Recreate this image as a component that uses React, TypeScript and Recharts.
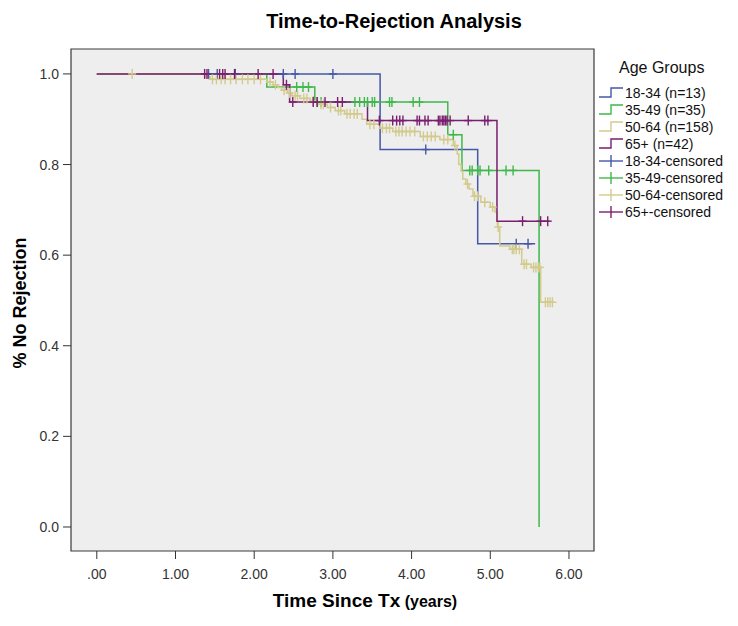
import React from 'react';
import { ComposedChart, Line, Scatter, XAxis, YAxis, ReferenceArea } from 'recharts';

const FONT = 'Arial, "Liberation Sans", Helvetica, sans-serif';

const xDomain = [-0.328, 6.318];
const yDomain = [-0.053, 1.055];
const xTicks = [0, 1, 2, 3, 4, 5, 6];
const xTickLabels = ['.00', '1.00', '2.00', '3.00', '4.00', '5.00', '6.00'];
const yTicks = [0, 0.2, 0.4, 0.6, 0.8, 1.0];
const yTickLabels = ['0.0', '0.2', '0.4', '0.6', '0.8', '1.0'];

const groups = ['18-34', '35-49', '50-64', '65+'];
const groupSizes = [13, 35, 158, 42];
const groupColors = ['#4457a8', '#3fb84b', '#d3ca8d', '#7a1f6f'];

// Kaplan-Meier steps: [years, proportion without rejection]
const steps1834 = [[0, 1], [3.6, 0.833], [4.84, 0.625], [5.57, 0.625]];
const steps3549 = [[0, 1], [2.16, 0.971], [2.77, 0.938], [4.46, 0.866], [4.64, 0.787], [5.62, 0]];
const steps5064 = [
  [0, 1], [1.375, 0.994], [1.44, 0.988], [2.16, 0.982], [2.24, 0.976], [2.3, 0.97],
  [2.35, 0.964], [2.42, 0.958], [2.48, 0.952], [2.58, 0.946], [2.71, 0.94], [2.81, 0.933],
  [2.93, 0.926], [3.03, 0.919], [3.15, 0.912], [3.37, 0.9], [3.43, 0.889], [3.6, 0.88],
  [3.76, 0.873], [4.11, 0.862], [4.36, 0.855], [4.53, 0.842], [4.58, 0.823], [4.6, 0.8],
  [4.63, 0.785], [4.65, 0.768], [4.69, 0.757], [4.73, 0.746], [4.78, 0.73], [4.88, 0.717],
  [5.0, 0.706], [5.06, 0.695], [5.09, 0.662], [5.12, 0.62], [5.25, 0.613], [5.4, 0.58],
  [5.52, 0.573], [5.64, 0.496], [5.81, 0.496],
];
const steps65 = [[0, 1], [2.37, 0.976], [2.45, 0.938], [3.44, 0.897], [5.085, 0.675], [5.75, 0.675]];

// censored cases
const cens1834 = [
  [1.42, 1], [1.53, 1], [1.76, 1], [2.37, 1], [2.52, 1], [3.0, 1],
  [4.18, 0.833], [5.33, 0.625], [5.48, 0.625],
];
const cens3549 = [
  [2.54, 0.971], [2.62, 0.971], [2.69, 0.971],
  [2.8, 0.938], [2.85, 0.938], [3.28, 0.938], [3.34, 0.938], [3.4, 0.938], [3.44, 0.938],
  [3.5, 0.938], [3.53, 0.938], [3.72, 0.938], [3.75, 0.938], [4.02, 0.938], [4.1, 0.938],
  [4.53, 0.866],
  [4.74, 0.787], [4.77, 0.787], [4.84, 0.787], [4.87, 0.787], [4.98, 0.787], [5.2, 0.787], [5.29, 0.787],
];
const cens5064 = [
  [0.45, 1],
  [1.47, 0.988], [1.52, 0.988], [1.58, 0.988], [1.63, 0.988], [1.7, 0.988], [1.77, 0.988],
  [1.85, 0.988], [1.92, 0.988], [2.0, 0.988], [2.08, 0.988],
  [2.2, 0.982], [2.27, 0.976], [2.38, 0.964], [2.45, 0.958], [2.52, 0.952], [2.55, 0.952],
  [2.63, 0.946], [2.67, 0.946], [2.75, 0.94], [2.85, 0.933], [2.88, 0.933], [2.97, 0.926],
  [3.07, 0.919], [3.1, 0.919], [3.18, 0.912], [3.22, 0.912], [3.27, 0.912], [3.31, 0.912],
  [3.47, 0.889], [3.52, 0.889], [3.63, 0.88], [3.68, 0.88], [3.72, 0.88],
  [3.8, 0.873], [3.84, 0.873], [3.88, 0.873], [3.93, 0.873], [3.98, 0.873], [4.04, 0.873],
  [4.15, 0.862], [4.2, 0.862], [4.25, 0.862], [4.3, 0.862], [4.41, 0.855], [4.46, 0.855],
  [4.55, 0.842], [4.71, 0.757], [4.8, 0.73], [4.84, 0.73], [4.93, 0.717], [5.03, 0.706],
  [5.1, 0.662], [5.28, 0.613], [5.3, 0.613], [5.33, 0.613], [5.37, 0.613],
  [5.43, 0.58], [5.46, 0.58], [5.55, 0.573], [5.58, 0.573], [5.61, 0.573], [5.63, 0.573],
  [5.7, 0.496], [5.73, 0.496], [5.76, 0.496], [5.79, 0.496],
];
const cens65 = [
  [1.37, 1], [1.4, 1], [1.56, 1], [1.6, 1], [1.63, 1], [1.75, 1], [2.05, 1], [2.24, 1],
  [2.41, 0.976],
  [2.49, 0.938], [2.75, 0.938], [2.8, 0.938], [2.9, 0.938], [3.06, 0.938], [3.12, 0.938],
  [3.59, 0.897], [3.76, 0.897], [3.81, 0.897], [3.85, 0.897], [3.89, 0.897], [4.07, 0.897],
  [4.1, 0.897], [4.17, 0.897], [4.21, 0.897], [4.34, 0.897], [4.36, 0.897], [4.39, 0.897],
  [4.41, 0.897], [4.43, 0.897], [4.45, 0.897], [4.49, 0.897], [4.72, 0.897], [4.93, 0.897],
  [4.97, 0.897],
  [5.41, 0.675], [5.64, 0.675], [5.73, 0.675],
];

const toPoints = (rows: number[][]) => rows.map(([t, s]) => ({ t, s }));

const steps = [steps1834, steps3549, steps5064, steps65].map(toPoints);
const censored = [cens1834, cens3549, cens5064, cens65].map(toPoints);

function Cross({ cx, cy, color }: { cx?: number; cy?: number; color: string }) {
  if (cx == null || cy == null) return null;
  return (
    <g stroke={color} strokeWidth={1.4}>
      <line x1={cx - 4} x2={cx + 4} y1={cy} y2={cy} />
      <line x1={cx} x2={cx} y1={cy - 5} y2={cy + 5} />
    </g>
  );
}

function Overlay() {
  const rows = [
    ...groups.map((g, i) => ({ label: `${g} (n=${groupSizes[i]})`, color: groupColors[i], kind: 'step' })),
    ...groups.map((g, i) => ({ label: `${g}-censored`, color: groupColors[i], kind: 'cross' })),
  ];
  return (
    <svg
      width={738}
      height={626}
      style={{ position: 'absolute', left: 0, top: 0, pointerEvents: 'none' }}
      fontFamily={FONT}
    >
      <text x={394} y={28} textAnchor="middle" fontSize={20} fontWeight="bold" fill="#000">
        Time-to-Rejection Analysis
      </text>
      <text x={365} y={607} textAnchor="middle" fontWeight="bold" fill="#000">
        <tspan fontSize={19}>Time Since Tx</tspan>
        <tspan fontSize={16}> (years)</tspan>
      </text>
      <text
        x={26}
        y={303}
        transform="rotate(-90 26 303)"
        textAnchor="middle"
        fontSize={18}
        fontWeight="bold"
        fill="#000"
      >
        % No Rejection
      </text>

      <text x={619} y={73} fontSize={16} fill="#111">Age Groups</text>
      {rows.map((r, i) => {
        const cy = 93 + i * 17;
        return (
          <g key={r.label}>
            {r.kind === 'step' ? (
              <path d={`M599 ${cy + 4} H611 V${cy - 5} H623`} fill="none" stroke={r.color} strokeWidth={1.4} />
            ) : (
              <g stroke={r.color} strokeWidth={1.4}>
                <line x1={599} x2={623} y1={cy} y2={cy} />
                <line x1={611} x2={611} y1={cy - 6} y2={cy + 6} />
              </g>
            )}
            <text x={625} y={cy + 5} fontSize={14} fill="#111">{r.label}</text>
          </g>
        );
      })}
    </svg>
  );
}

export default function App() {
  const tickStyle = { fontSize: 14, fill: '#333', fontFamily: FONT };
  return (
    <div style={{ position: 'absolute', left: 0, top: 0, width: 738, height: 626, background: '#fff' }}>
      <ComposedChart width={738} height={626} margin={{ top: 49, right: 144, bottom: 0, left: 0 }}>
        <XAxis
          type="number"
          dataKey="t"
          domain={xDomain}
          allowDataOverflow
          ticks={xTicks}
          tickFormatter={(v: number) => xTickLabels[xTicks.indexOf(v)] ?? ''}
          height={75}
          axisLine={false}
          tickLine={{ stroke: '#333' }}
          tickSize={8}
          tickMargin={10}
          tick={tickStyle}
        />
        <YAxis
          type="number"
          dataKey="s"
          domain={yDomain}
          allowDataOverflow
          ticks={yTicks}
          tickFormatter={(v: number) => yTickLabels[yTicks.indexOf(v)] ?? ''}
          width={71}
          axisLine={false}
          tickLine={{ stroke: '#333' }}
          tickSize={8}
          tickMargin={4}
          tick={tickStyle}
        />
        <ReferenceArea
          x1={xDomain[0]}
          x2={xDomain[1]}
          y1={yDomain[0]}
          y2={yDomain[1]}
          fill="#eeeeee"
          fillOpacity={1}
          stroke="#3a3a3a"
          strokeWidth={1.2}
        />
        {steps.map((d, i) => (
          <Line
            key={groups[i]}
            data={d}
            dataKey="s"
            type="stepAfter"
            stroke={groupColors[i]}
            strokeWidth={1.5}
            dot={false}
            activeDot={false}
            isAnimationActive={false}
          />
        ))}
        {censored.map((d, i) => (
          <Scatter
            key={`${groups[i]}-c`}
            data={d}
            dataKey="s"
            isAnimationActive={false}
            shape={(p: any) => <Cross cx={p.cx} cy={p.cy} color={groupColors[i]} />}
          />
        ))}
      </ComposedChart>
      <Overlay />
    </div>
  );
}
